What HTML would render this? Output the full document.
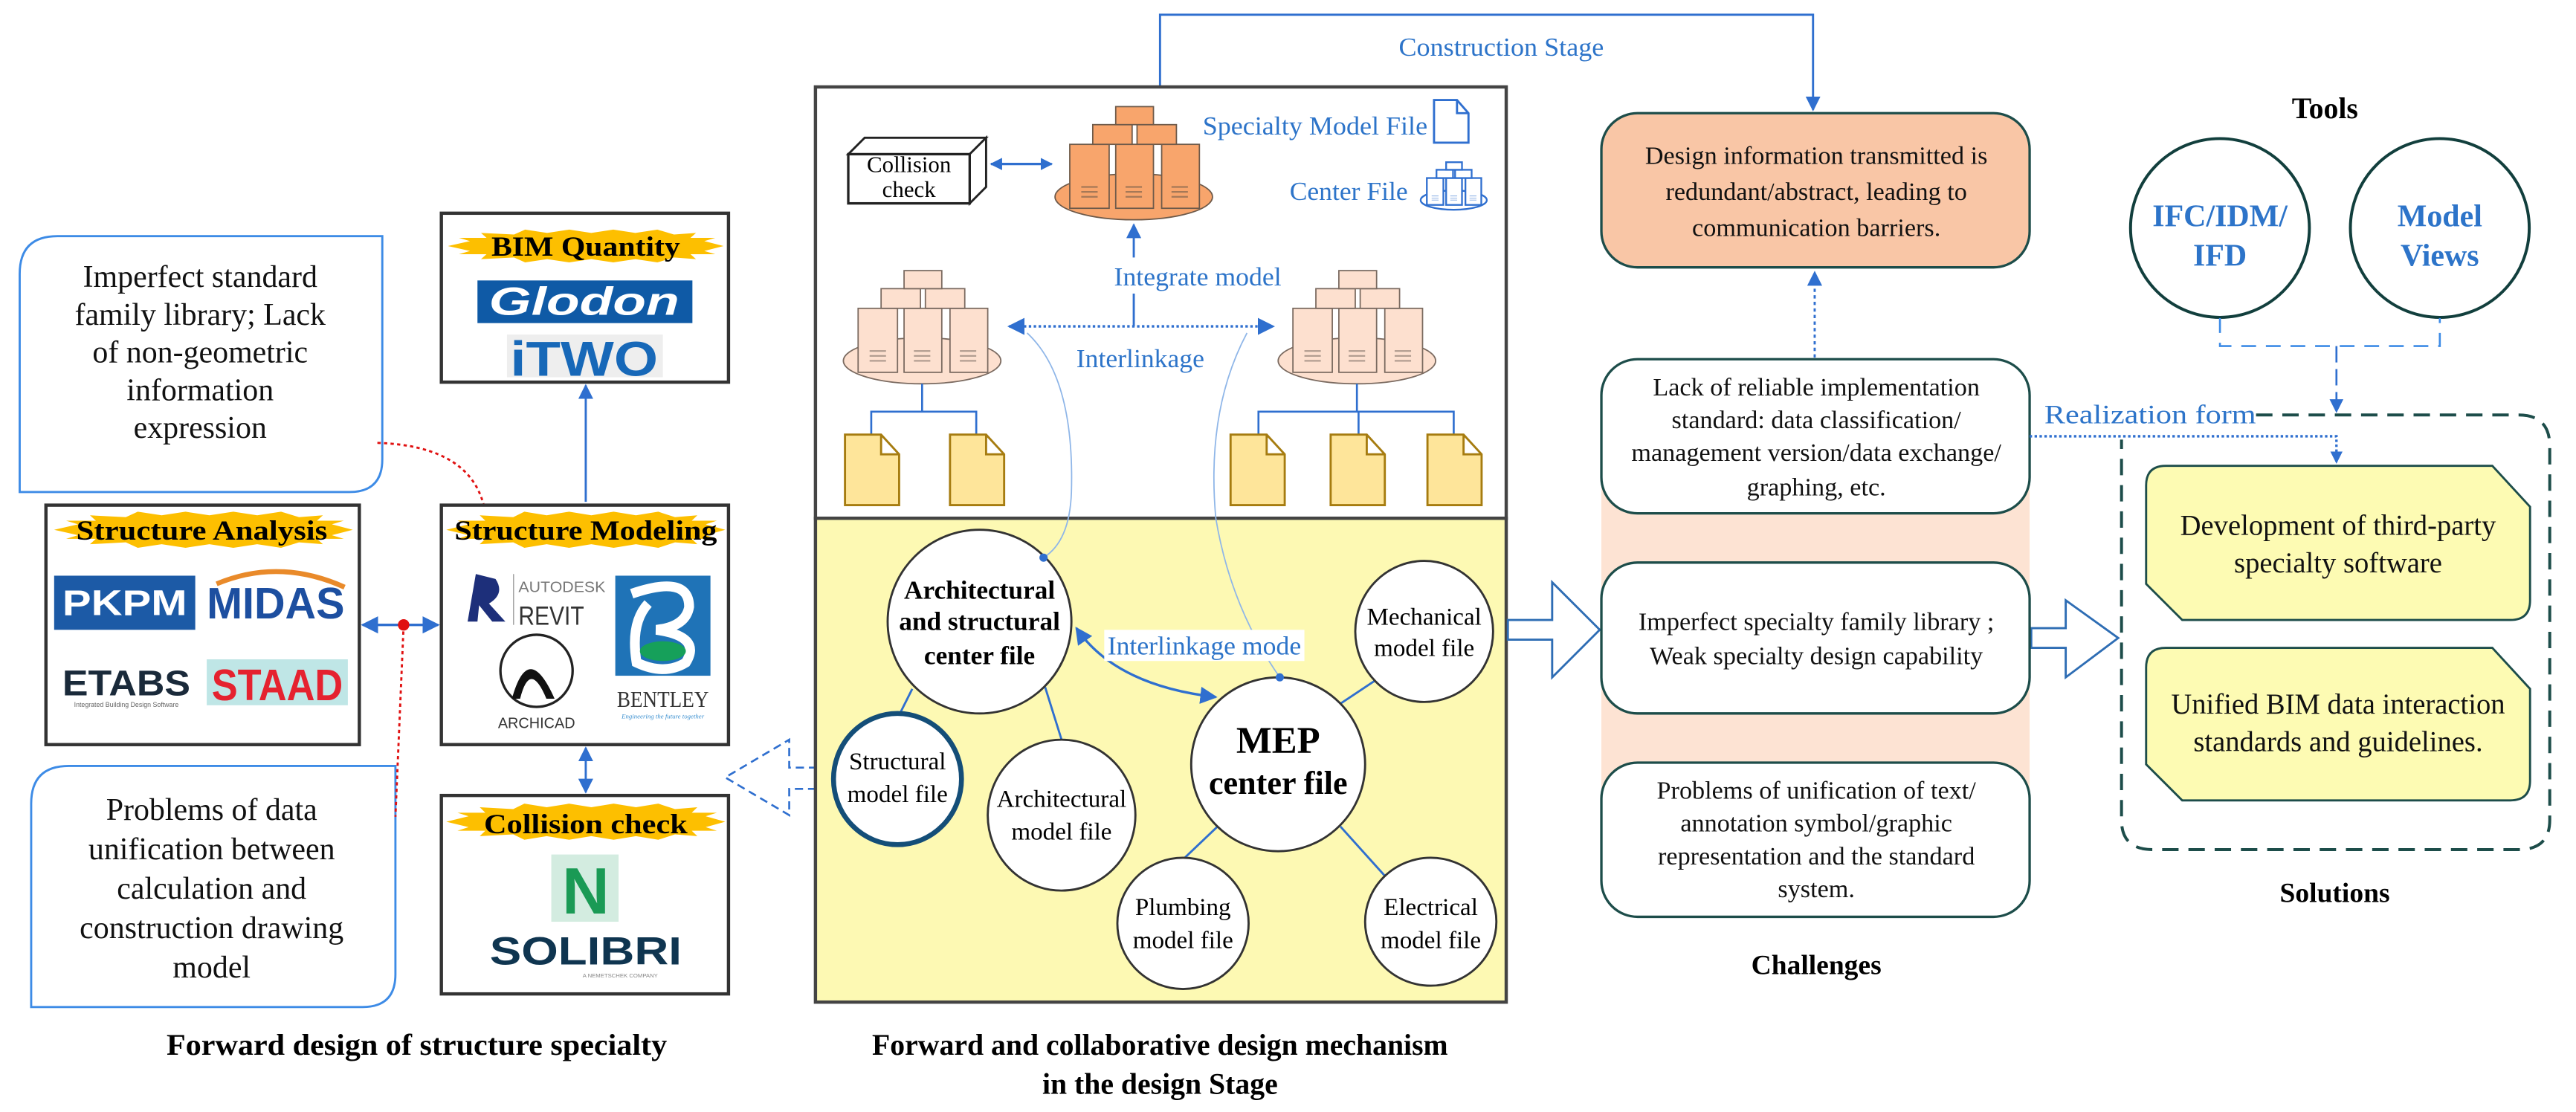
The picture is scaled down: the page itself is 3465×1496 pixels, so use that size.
<!DOCTYPE html>
<html><head><meta charset="utf-8"><style>
html,body{margin:0;padding:0;background:#fff}
svg{display:block;font-family:"Liberation Serif",serif}
svg text,svg g{font-family:"Liberation Serif",serif}
svg .sans,svg text.sans{font-family:"Liberation Sans",sans-serif}
.b{font-weight:bold}
.bl{fill:#2d74c9}
</style></head><body>
<svg width="3465" height="1496" viewBox="0 0 1570 678" preserveAspectRatio="none" xmlns="http://www.w3.org/2000/svg" font-family="Liberation Serif, serif" style="font-family:'Liberation Serif',serif">
<defs>
<marker id="ah" viewBox="0 0 10 10" refX="9" refY="5" markerWidth="7" markerHeight="7" orient="auto-start-reverse"><path d="M0,0 L10,5 L0,10 z" fill="#2f6fcf"/></marker>
<marker id="ahs" viewBox="0 0 10 10" refX="9" refY="5" markerWidth="5" markerHeight="5" orient="auto-start-reverse"><path d="M0,0 L10,5 L0,10 z" fill="#2f6fcf"/></marker>
<polygon id="burst" points="0,10 8,7 4,5 14,5 12,2 24,3 28,0 36,2 44,0 52,2 60,0 68,2 76,0 82,3 90,2 88,5 97,5 93,7 100,10 93,13 97,15 88,15 90,18 82,17 76,20 68,18 60,20 52,18 44,20 36,18 28,20 24,17 12,18 14,15 4,15 8,13" fill="#fdbf00"/>
<g id="stack">
<ellipse cx="0" cy="0" rx="48" ry="14"/>
<rect x="-39" y="-32" width="24" height="39"/><rect x="-11" y="-32" width="23" height="39"/><rect x="17" y="-32" width="23" height="39"/>
<rect x="-25" y="-44" width="24" height="12"/><rect x="2" y="-44" width="24" height="12"/>
<rect x="-11" y="-55" width="23" height="11"/>
<g stroke-width="1"><path d="M-32,-6h10M-32,-3h10M-32,0h10M-5,-6h10M-5,-3h10M-5,0h10M23,-6h10M23,-3h10M23,0h10" stroke-opacity="0.6"/></g>
</g>
<path id="doc" d="M0,0 H22 L33,12 V43 H0 Z M22,0 V12 H33"/>
</defs>

<!-- LEFT: callouts -->
<path d="M12,300 V167 Q12,144 35,144 H233 V280 Q233,300 213,300 Z" fill="#fff" stroke="#3d8be6" stroke-width="1.3"/>
<g font-size="19" text-anchor="middle" fill="#111" font-family="Liberation Serif, serif">
<text x="122" y="175">Imperfect standard</text>
<text x="122" y="198">family library; Lack</text>
<text x="122" y="221">of non-geometric</text>
<text x="122" y="244">information</text>
<text x="122" y="267">expression</text>
</g>
<path d="M19,614 V490 Q19,467 42,467 H241 V594 Q241,614 221,614 Z" fill="#fff" stroke="#3d8be6" stroke-width="1.3"/>
<g font-size="19" text-anchor="middle" fill="#111" font-family="Liberation Serif, serif">
<text x="129" y="500">Problems of data</text>
<text x="129" y="524">unification between</text>
<text x="129" y="548">calculation and</text>
<text x="129" y="572">construction drawing</text>
<text x="129" y="596">model</text>
</g>
<path d="M230,270 Q290,272 296,314" fill="none" stroke="#e01010" stroke-width="1.3" stroke-dasharray="2,2"/>
<circle cx="296" cy="314" r="3.5" fill="#e01010"/>
<path d="M246,381 L241,498" fill="none" stroke="#e01010" stroke-width="1.3" stroke-dasharray="2,2"/>

<!-- Structure Analysis -->
<rect x="28" y="308" width="191" height="146" fill="#fff" stroke="#333" stroke-width="2"/>
<use href="#burst" transform="translate(33,312) scale(1.82,1.1)"/>
<text x="123" y="329" class="b" font-size="17" text-anchor="middle" textLength="153" lengthAdjust="spacingAndGlyphs">Structure Analysis</text>
<rect x="33" y="351" width="86" height="33" fill="#1c5aa6"/>
<text x="76" y="375" class="sans" font-weight="bold" font-size="22" fill="#fff" text-anchor="middle" textLength="76" lengthAdjust="spacingAndGlyphs">PKPM</text>
<text x="168" y="377" class="sans" font-weight="bold" font-size="27" fill="#1d4fa0" text-anchor="middle" textLength="84" lengthAdjust="spacingAndGlyphs">MIDAS</text>
<path d="M132,356 Q170,340 210,358" fill="none" stroke="#e98a2a" stroke-width="3"/>
<text x="77" y="424" class="sans" font-weight="bold" font-size="22" fill="#1a2a3a" text-anchor="middle" textLength="78" lengthAdjust="spacingAndGlyphs">ETABS</text>
<text x="77" y="431" class="sans" font-size="4" fill="#666" text-anchor="middle">Integrated Building Design Software</text>
<rect x="126" y="402" width="86" height="28" fill="#bfe6e6"/>
<text x="169" y="427" class="sans" font-weight="bold" font-size="27" fill="#e5222f" text-anchor="middle" textLength="80" lengthAdjust="spacingAndGlyphs">STAAD</text>
<line x1="221" y1="381" x2="267" y2="381" stroke="#2f6fcf" stroke-width="1.5" marker-start="url(#ah)" marker-end="url(#ah)"/>
<circle cx="246" cy="381" r="3.5" fill="#e01010"/>

<!-- BIM Quantity -->
<rect x="269" y="130" width="175" height="103" fill="#fff" stroke="#333" stroke-width="2"/>
<use href="#burst" transform="translate(273,140) scale(1.68,1)"/>
<text x="357" y="156" class="b" font-size="17" text-anchor="middle" textLength="115" lengthAdjust="spacingAndGlyphs">BIM Quantity</text>
<rect x="291" y="171" width="131" height="26" fill="#0f5aa6"/>
<text x="356" y="192" class="sans" font-weight="bold" font-style="italic" font-size="24" fill="#fff" text-anchor="middle" textLength="116" lengthAdjust="spacingAndGlyphs">Glodon</text>
<rect x="309" y="204" width="95" height="26" fill="#eeeeee"/>
<text x="356" y="229" class="sans" font-weight="bold" font-size="30" fill="#1768b8" text-anchor="middle" textLength="90" lengthAdjust="spacingAndGlyphs">iTWO</text>
<line x1="357" y1="306" x2="357" y2="235" stroke="#2f6fcf" stroke-width="1.3" marker-end="url(#ah)"/>

<!-- Structure Modeling -->
<rect x="269" y="308" width="175" height="146" fill="#fff" stroke="#333" stroke-width="2"/>
<use href="#burst" transform="translate(272,312) scale(1.7,1.1)"/>
<text x="357" y="329" class="b" font-size="17" text-anchor="middle" textLength="160" lengthAdjust="spacingAndGlyphs">Structure Modeling</text>
<path d="M285,379 L290,350 L302,353 Q308,362 298,368 L308,379 L300,379 L292,369 L291,379 Z" fill="#1d2f7a"/>
<line x1="313" y1="350" x2="313" y2="381" stroke="#999" stroke-width="0.6"/>
<text x="316" y="361" class="sans" font-size="9" fill="#777" textLength="53" lengthAdjust="spacingAndGlyphs">AUTODESK</text>
<text x="316" y="381" class="sans" font-size="16" fill="#333" textLength="40" lengthAdjust="spacingAndGlyphs">REVIT</text>
<ellipse cx="327" cy="409" rx="22" ry="22" fill="#fff" stroke="#222" stroke-width="1.5"/>
<path d="M312,426 Q322,390 338,426 L333,426 Q323,402 317,426 Z" fill="#111"/>
<text x="327" y="444" class="sans" font-size="9" fill="#333" text-anchor="middle">ARCHICAD</text>
<rect x="375" y="351" width="58" height="61" fill="#1f73b7"/>
<path d="M385,362 Q420,350 420,370 Q418,382 400,384 Q428,388 418,404 Q405,412 388,404 Q384,380 395,368" fill="none" stroke="#fff" stroke-width="6"/>
<ellipse cx="404" cy="397" rx="14" ry="6" fill="#16a05a"/>
<text x="404" y="431" font-size="14" fill="#333" text-anchor="middle" textLength="56" lengthAdjust="spacingAndGlyphs">BENTLEY</text>
<text x="404" y="438" font-size="4" fill="#3a8fd0" text-anchor="middle" font-style="italic">Engineering the future together</text>
<line x1="357" y1="456" x2="357" y2="483" stroke="#2f6fcf" stroke-width="1.3" marker-start="url(#ah)" marker-end="url(#ah)"/>

<!-- Collision check -->
<rect x="269" y="485" width="175" height="121" fill="#fff" stroke="#333" stroke-width="2"/>
<use href="#burst" transform="translate(272,490) scale(1.7,1.1)"/>
<text x="357" y="508" class="b" font-size="17" text-anchor="middle" textLength="124" lengthAdjust="spacingAndGlyphs">Collision check</text>
<rect x="336" y="521" width="41" height="41" fill="#d3ece0"/>
<text x="357" y="557" class="sans" font-weight="bold" font-size="40" fill="#1a9a55" text-anchor="middle">N</text>
<text x="357" y="588" class="sans" font-weight="bold" font-size="24" fill="#0f3550" text-anchor="middle" textLength="117" lengthAdjust="spacingAndGlyphs">SOLIBRI</text>
<text x="378" y="596" class="sans" font-size="3.5" fill="#888" text-anchor="middle">A NEMETSCHEK COMPANY</text>

<text x="254" y="643" class="b" font-size="18" text-anchor="middle" textLength="305" lengthAdjust="spacingAndGlyphs">Forward design of structure specialty</text>

<!-- dashed hollow arrow left -->
<polygon points="498,468 481,468 481,451 442,474 481,497 481,481 498,481" fill="#fff" stroke="#2f6fcf" stroke-width="1.2" stroke-dasharray="5,3"/>

<!-- MIDDLE -->
<path d="M707,53 V9 H1105 V67" fill="none" stroke="#2f6fcf" stroke-width="1.3" marker-end="url(#ah)"/>
<text x="915" y="34" font-size="16" class="bl" text-anchor="middle" textLength="125" lengthAdjust="spacingAndGlyphs">Construction Stage</text>
<rect x="497" y="53" width="421" height="263" fill="#fff" stroke="#444" stroke-width="2"/>
<rect x="497" y="316" width="421" height="295" fill="#fdf9b3" stroke="#444" stroke-width="2"/>

<polygon points="517,94 527,84 601,84 591,94" fill="#fff" stroke="#222" stroke-width="1.3"/>
<polygon points="591,94 601,84 601,114 591,124" fill="#fff" stroke="#222" stroke-width="1.3"/>
<rect x="517" y="94" width="74" height="30" fill="#fff" stroke="#222" stroke-width="1.5"/>
<text x="554" y="105" font-size="14" text-anchor="middle">Collision</text>
<text x="554" y="120" font-size="14" text-anchor="middle">check</text>
<line x1="604" y1="100" x2="641" y2="100" stroke="#2f6fcf" stroke-width="1.5" marker-start="url(#ahs)" marker-end="url(#ahs)"/>

<use href="#stack" transform="translate(691,120)" fill="#f8a56c" stroke="#6e5a4a" stroke-width="0.8"/>
<use href="#stack" transform="translate(562,220)" fill="#fde0cf" stroke="#7a6a60" stroke-width="0.8"/>
<use href="#stack" transform="translate(827,220)" fill="#fde0cf" stroke="#7a6a60" stroke-width="0.8"/>

<text x="733" y="82" font-size="16" class="bl" textLength="137" lengthAdjust="spacingAndGlyphs">Specialty Model File</text>
<path d="M874,61 H888 L895,69 V87 H874 Z M888,61 V69 H895" fill="#fff" stroke="#2f6fcf" stroke-width="1.3"/>
<text x="786" y="122" font-size="16" class="bl" textLength="72" lengthAdjust="spacingAndGlyphs">Center File</text>
<use href="#stack" transform="translate(886,122) scale(0.42)" fill="#fff" stroke="#2f6fcf" stroke-width="2.5"/>

<line x1="691" y1="157" x2="691" y2="137" stroke="#2f6fcf" stroke-width="1.3" marker-end="url(#ah)"/>
<text x="730" y="174" font-size="16" class="bl" text-anchor="middle" textLength="102" lengthAdjust="spacingAndGlyphs">Integrate model</text>
<line x1="691" y1="179" x2="691" y2="199" stroke="#2f6fcf" stroke-width="1.3"/>
<line x1="615" y1="199" x2="776" y2="199" stroke="#2f6fcf" stroke-width="1.5" stroke-dasharray="1.5,1.5" marker-start="url(#ah)" marker-end="url(#ah)"/>
<text x="695" y="224" font-size="16" class="bl" text-anchor="middle" textLength="78" lengthAdjust="spacingAndGlyphs">Interlinkage</text>

<g fill="none" stroke="#2f6fcf" stroke-width="1.2">
<path d="M562,234 V251 M531,265 V251 H595 V265"/>
<path d="M827,234 V251 M767,265 V251 H886 V265 M828,251 V265"/>
</g>
<g fill="#fee59a" stroke="#a67c10" stroke-width="1.3">
<use href="#doc" transform="translate(515,265)"/>
<use href="#doc" transform="translate(579,265)"/>
<use href="#doc" transform="translate(750,265)"/>
<use href="#doc" transform="translate(811,265)"/>
<use href="#doc" transform="translate(870,265)"/>
</g>

<path d="M626,203 Q655,230 653,300 Q652,330 636,340" fill="none" stroke="#8fb6e8" stroke-width="0.8"/>
<path d="M760,203 Q735,250 741,316 Q750,370 780,413" fill="none" stroke="#8fb6e8" stroke-width="0.8"/>

<g stroke="#2f6fcf" stroke-width="1.3">
<line x1="556" y1="420" x2="548" y2="436"/>
<line x1="637" y1="419" x2="647" y2="451"/>
<line x1="817" y1="429" x2="838" y2="415"/>
<line x1="742" y1="504" x2="721" y2="524"/>
<line x1="817" y1="504" x2="844" y2="534"/>
</g>
<g fill="#fff" stroke="#333" stroke-width="1.3">
<ellipse cx="597" cy="379" rx="56" ry="56"/>
<ellipse cx="647" cy="497" rx="45" ry="46"/>
<ellipse cx="779" cy="466" rx="53" ry="53"/>
<ellipse cx="868" cy="385" rx="42" ry="43"/>
<ellipse cx="721" cy="563" rx="40" ry="40"/>
<ellipse cx="872" cy="562" rx="40" ry="39"/>
</g>
<ellipse cx="547" cy="475" rx="39" ry="40" fill="#fff" stroke="#144e78" stroke-width="3"/>
<circle cx="636" cy="340" r="2.5" fill="#2f6fcf"/>
<circle cx="780" cy="413" r="2.5" fill="#2f6fcf"/>
<g font-size="16" class="b" text-anchor="middle" font-family="Liberation Serif, serif">
<text x="597" y="365">Architectural</text>
<text x="597" y="384">and structural</text>
<text x="597" y="405">center file</text>
</g>
<text x="779" y="459" font-size="23" class="b" text-anchor="middle">MEP</text>
<text x="779" y="484" font-size="20" class="b" text-anchor="middle">center file</text>
<g font-size="15" text-anchor="middle" font-family="Liberation Serif, serif">
<text x="547" y="469">Structural</text><text x="547" y="489">model file</text>
<text x="647" y="492">Architectural</text><text x="647" y="512">model file</text>
<text x="868" y="381">Mechanical</text><text x="868" y="400">model file</text>
<text x="721" y="558">Plumbing</text><text x="721" y="578">model file</text>
<text x="872" y="558">Electrical</text><text x="872" y="578">model file</text>
</g>
<path d="M656,383 Q680,418 741,425" fill="none" stroke="#2f6fcf" stroke-width="1.5" marker-start="url(#ah)" marker-end="url(#ah)"/>
<rect x="673" y="384" width="122" height="19" fill="#fff"/>
<text x="734" y="399" font-size="16" class="bl" text-anchor="middle" textLength="118" lengthAdjust="spacingAndGlyphs">Interlinkage mode</text>

<g font-size="18" class="b" text-anchor="middle" font-family="Liberation Serif, serif">
<text x="707" y="643">Forward and collaborative design mechanism</text>
<text x="707" y="667">in the design Stage</text>
</g>

<polygon points="919,378 946,378 946,355 975,384 946,413 946,390 919,390" fill="#fff" stroke="#2e6db4" stroke-width="1.3"/>
<polygon points="1238,383 1259,383 1259,366 1291,389 1259,413 1259,395 1238,395" fill="#fff" stroke="#2e6db4" stroke-width="1.3"/>

<!-- CHALLENGES -->
<rect x="976" y="266" width="261" height="246" fill="#fde3d3"/>
<rect x="976" y="69" width="261" height="94" rx="22" fill="#f9c6a6" stroke="#1d4d4a" stroke-width="1.5"/>
<g font-size="15.5" text-anchor="middle" fill="#111" font-family="Liberation Serif, serif">
<text x="1107" y="100">Design information transmitted is</text>
<text x="1107" y="122">redundant/abstract, leading to</text>
<text x="1107" y="144">communication barriers.</text>
</g>
<line x1="1106" y1="218" x2="1106" y2="166" stroke="#2f6fcf" stroke-width="1.3" stroke-dasharray="2,2" marker-end="url(#ah)"/>
<rect x="976" y="219" width="261" height="94" rx="22" fill="#fff" stroke="#1d4d4a" stroke-width="1.5"/>
<rect x="976" y="343" width="261" height="92" rx="22" fill="#fff" stroke="#1d4d4a" stroke-width="1.5"/>
<rect x="976" y="465" width="261" height="94" rx="22" fill="#fff" stroke="#1d4d4a" stroke-width="1.5"/>
<g font-size="15.5" text-anchor="middle" fill="#111" font-family="Liberation Serif, serif">
<text x="1107" y="241">Lack of reliable implementation</text>
<text x="1107" y="261">standard: data classification/</text>
<text x="1107" y="281">management version/data exchange/</text>
<text x="1107" y="302">graphing, etc.</text>
<text x="1107" y="384">Imperfect specialty family library ;</text>
<text x="1107" y="405">Weak specialty design capability</text>
<text x="1107" y="487">Problems of unification of text/</text>
<text x="1107" y="507">annotation symbol/graphic</text>
<text x="1107" y="527">representation and the standard</text>
<text x="1107" y="547">system.</text>
</g>
<text x="1107" y="594" font-size="17" class="b" text-anchor="middle">Challenges</text>

<!-- TOOLS -->
<text x="1417" y="72" font-size="18" class="b" text-anchor="middle">Tools</text>
<circle cx="1353" cy="139" r="54.5" fill="#fff" stroke="#123f3d" stroke-width="1.8"/>
<circle cx="1487" cy="139" r="54.5" fill="#fff" stroke="#123f3d" stroke-width="1.8"/>
<g font-size="19" class="b bl" text-anchor="middle" font-family="Liberation Serif, serif">
<text x="1353" y="138">IFC/IDM/</text><text x="1353" y="162">IFD</text>
<text x="1487" y="138">Model</text><text x="1487" y="162">Views</text>
</g>
<path d="M1353,194 V211 H1487 V194" fill="none" stroke="#3d8be6" stroke-width="1.2" stroke-dasharray="9,6"/>
<line x1="1424" y1="211" x2="1424" y2="251" stroke="#2f6fcf" stroke-width="1.2" stroke-dasharray="10,4" marker-end="url(#ah)"/>

<!-- SOLUTIONS -->
<path d="M1375,253 H1535 Q1554,253 1554,272 V500 Q1554,518 1535,518 H1312 Q1293,518 1293,500 V268" fill="none" stroke="#1d4d4a" stroke-width="1.8" stroke-dasharray="10,6"/>
<text x="1246" y="258" font-size="16.5" class="bl" textLength="129" lengthAdjust="spacingAndGlyphs">Realization form</text>
<path d="M1237,266 H1424 V282" fill="none" stroke="#2f6fcf" stroke-width="1.5" stroke-dasharray="1.5,1.5" marker-end="url(#ahs)"/>
<path d="M1320,284 H1519 L1542,309 V366 Q1542,378 1530,378 H1330 L1308,356 V296 Q1308,284 1320,284 Z" fill="#fdfbb3" stroke="#1d4d4a" stroke-width="1.3"/>
<path d="M1320,395 H1519 L1542,420 V476 Q1542,488 1530,488 H1330 L1308,466 V407 Q1308,395 1320,395 Z" fill="#fdfbb3" stroke="#1d4d4a" stroke-width="1.3"/>
<g font-size="17.5" text-anchor="middle" fill="#111" font-family="Liberation Serif, serif">
<text x="1425" y="326">Development of third-party</text>
<text x="1425" y="349">specialty software</text>
<text x="1425" y="435">Unified BIM data interaction</text>
<text x="1425" y="458">standards and guidelines.</text>
</g>
<text x="1423" y="550" font-size="17" class="b" text-anchor="middle">Solutions</text>
</svg>
</body></html>
